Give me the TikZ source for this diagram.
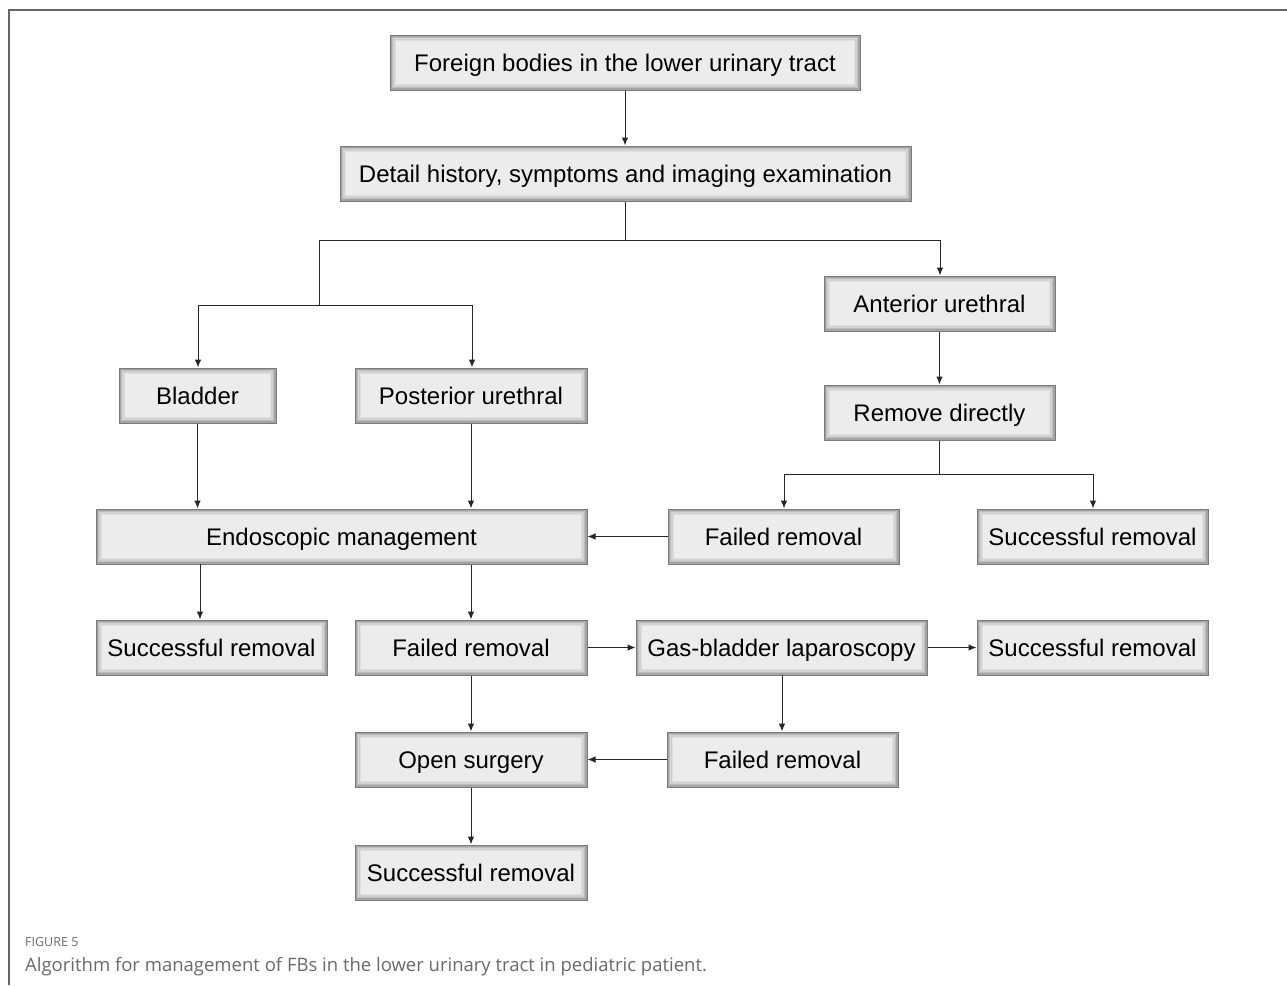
\documentclass[tikz,border=0pt]{standalone}
\usepackage{fontspec}
\setmainfont{Liberation Sans}
\newfontfamily\capfont{Open Sans}
\usetikzlibrary{arrows.meta}
\definecolor{boxfill}{HTML}{ECECEC}
\definecolor{boxline}{HTML}{7A7A7A}
\definecolor{capgray}{HTML}{6A6A6A}
\tikzset{
  fbox/.style={draw=boxline, line width=1pt, fill=boxfill, minimum height=55pt, inner sep=0pt,
    font=\fontsize{24}{28}\selectfont, text height=19pt, text depth=2pt,
    path picture={
      \foreach \i/\o in {1/0.30,2.5/0.20,4/0.11,5.5/0.05}{
        \draw[line width=1.6pt, black, opacity=\o]
          ([shift={(\i pt,-\i pt)}]path picture bounding box.north west) rectangle
          ([shift={(-\i pt,\i pt)}]path picture bounding box.south east);
      }
    }},
  conn/.style={line width=1pt, black!85},
  arr/.style={conn, -{Latex[length=8pt,width=6.5pt]}},
}
\begin{document}
\begin{tikzpicture}[x=1pt,y=-1pt]
\useasboundingbox (0,0) rectangle (1287,985);
\fill[white] (0,0) rectangle (1287,985);
\draw[line width=1.2pt, black!60] (9,985) -- (9,10) -- (1287,10);

\node[fbox, minimum width=470pt] (fb) at (625,62.5) {Foreign bodies in the lower urinary tract};
\node[fbox, minimum width=571pt] (dh) at (625.5,173.5) {Detail history, symptoms and imaging examination};
\node[fbox, minimum width=231pt] (au) at (939.5,303.5) {Anterior urethral};
\node[fbox, minimum width=157pt] (bl) at (197.5,395.5) {Bladder};
\node[fbox, minimum width=232pt] (pu) at (471,395.5) {Posterior urethral};
\node[fbox, minimum width=231pt] (rd) at (939.5,412.5) {Remove directly};
\node[fbox, minimum width=491pt] (em) at (341.5,536.5) {Endoscopic management};
\node[fbox, minimum width=231pt] (fr1) at (783.5,536.5) {Failed removal};
\node[fbox, minimum width=231pt] (sr1) at (1092.5,536.5) {Successful removal};
\node[fbox, minimum width=231pt] (sr2) at (211.5,647.5) {Successful removal};
\node[fbox, minimum width=232pt] (fr2) at (471,647.5) {Failed removal};
\node[fbox, minimum width=291pt] (gb) at (781.5,647.5) {Gas-bladder laparoscopy};
\node[fbox, minimum width=231pt] (sr3) at (1092.5,647.5) {Successful removal};
\node[fbox, minimum width=232pt] (os) at (471,759.5) {Open surgery};
\node[fbox, minimum width=231pt] (fr3) at (782.5,759.5) {Failed removal};
\node[fbox, minimum width=232pt] (sr4) at (471,872.5) {Successful removal};

\coordinate (j1l) at (319,240);
\coordinate (j1r) at (940,240);
\coordinate (j2) at (319,305);
\coordinate (j2l) at (198,305);
\coordinate (j2r) at (472,305);
\coordinate (j3l) at (784,474);
\coordinate (j3r) at (1093,474);
\coordinate (e1) at (200,564);
\coordinate (g1) at (782,675);

\draw[arr] (fb.south) -- (fb.south |- dh.north);
\draw[conn] (dh.south) -- (dh.south |- j1l);
\draw[conn] (j1l) -- (j1r);
\draw[arr] (j1r) -- (j1r |- au.north);
\draw[conn] (j1l) -- (j2);
\draw[conn] (j2l) -- (j2r);
\draw[arr] (j2l) -- (j2l |- bl.north);
\draw[arr] (j2r) -- (j2r |- pu.north);
\draw[arr] (au.south) -- (rd.north);
\draw[conn] (rd.south) -- (rd.south |- j3l);
\draw[conn] (j3l) -- (j3r);
\draw[arr] (j3l) -- (j3l |- fr1.north);
\draw[arr] (j3r) -- (j3r |- sr1.north);
\draw[arr] (bl.south) -- (bl.south |- em.north);
\draw[arr] (pu.south) -- (pu.south |- em.north);
\draw[arr] (fr1.west) -- (em.east);
\draw[arr] (e1) -- (e1 |- sr2.north);
\draw[arr] (em.south -| fr2.north) -- (fr2.north);
\draw[arr] (fr2.east) -- (gb.west);
\draw[arr] (gb.east) -- (sr3.west);
\draw[arr] (g1) -- (g1 |- fr3.north);
\draw[arr] (fr3.west) -- (os.east);
\draw[arr] (fr2.south) -- (os.north);
\draw[arr] (os.south) -- (sr4.north);

\node[anchor=west, inner sep=0pt, text=capgray, font=\capfont\fontsize{12.5}{14}\selectfont] (cap1) at (25,942) {FIGURE 5};
\node[anchor=west, inner sep=0pt, text=capgray, font=\capfont\fontsize{18.5}{21}\selectfont] (cap2) at (25,967) {Algorithm for management of FBs in the lower urinary tract in pediatric patient.};
\end{tikzpicture}
\end{document}
